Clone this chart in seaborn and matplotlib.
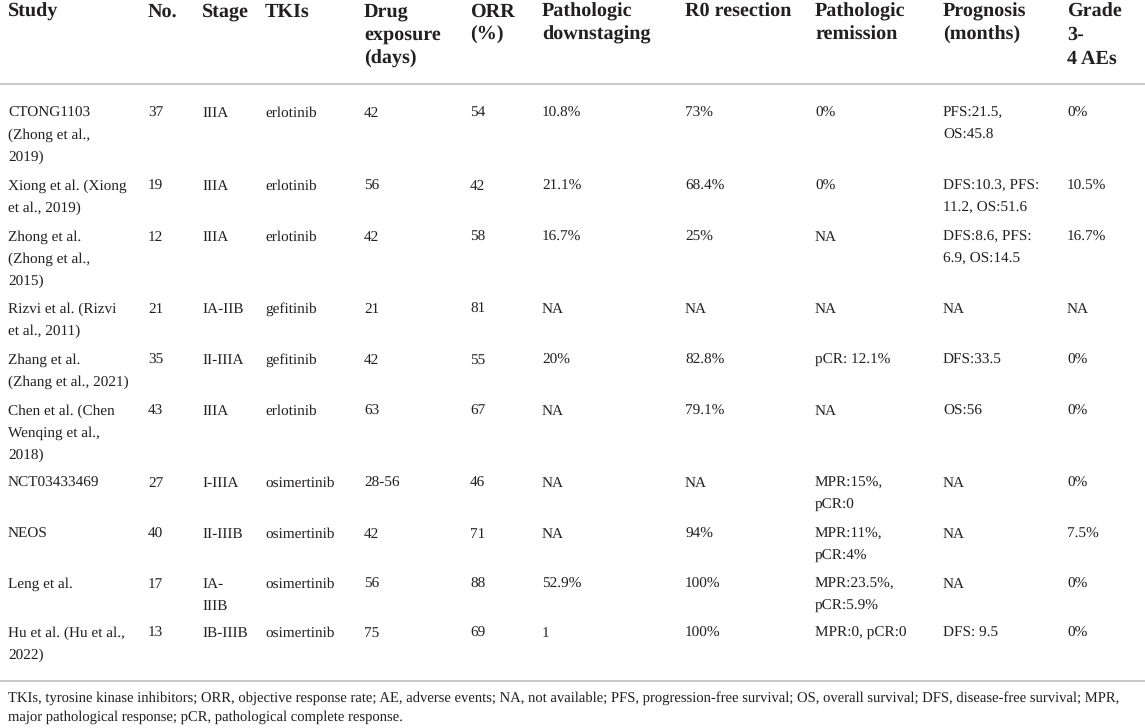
import matplotlib
matplotlib.use("Agg")
import matplotlib.pyplot as plt
import seaborn as sns

# ---------------- data ----------------
headers = ["Study", "No.", "Stage", "TKIs", "Drug\nexposure\n(days)", "ORR\n(%)",
           "Pathologic\ndownstaging", "R0 resection", "Pathologic\nremission",
           "Prognosis\n(months)", "Grade\n3-\n4 AEs"]

studies = ["CTONG1103\n(Zhong et al.,\n2019)", "Xiong et al. (Xiong\net al., 2019)",
           "Zhong et al.\n(Zhong et al.,\n2015)", "Rizvi et al. (Rizvi\net al., 2011)",
           "Zhang et al.\n(Zhang et al., 2021)", "Chen et al. (Chen\nWenqing et al.,\n2018)",
           "NCT03433469", "NEOS", "Leng et al.", "Hu et al. (Hu et al.,\n2022)"]
patients = ["37", "19", "12", "21", "35", "43", "27", "40", "17", "13"]
stages = ["IIIA", "IIIA", "IIIA", "IA-IIB", "II-IIIA", "IIIA", "I-IIIA", "II-IIIB", "IA-\nIIIB", "IB-IIIB"]
tkis = ["erlotinib", "erlotinib", "erlotinib", "gefitinib", "gefitinib", "erlotinib",
        "osimertinib", "osimertinib", "osimertinib", "osimertinib"]
exposure = ["42", "56", "42", "21", "42", "63", "28-56", "42", "56", "75"]
orr = ["54", "42", "58", "81", "55", "67", "46", "71", "88", "69"]
downstaging = ["10.8%", "21.1%", "16.7%", "NA", "20%", "NA", "NA", "NA", "52.9%", "1"]
r0 = ["73%", "68.4%", "25%", "NA", "82.8%", "79.1%", "NA", "94%", "100%", "100%"]
remission = ["0%", "0%", "NA", "NA", "pCR: 12.1%", "NA", "MPR:15%,\npCR:0",
             "MPR:11%,\npCR:4%", "MPR:23.5%,\npCR:5.9%", "MPR:0, pCR:0"]
prognosis = ["PFS:21.5,\nOS:45.8", "DFS:10.3, PFS:\n11.2, OS:51.6", "DFS:8.6, PFS:\n6.9, OS:14.5",
             "NA", "DFS:33.5", "OS:56", "NA", "NA", "NA", "DFS: 9.5"]
aes = ["0%", "10.5%", "16.7%", "NA", "0%", "0%", "0%", "7.5%", "0%", "0%"]

footnote = ("TKIs, tyrosine kinase inhibitors; ORR, objective response rate; AE, adverse events; NA, not available; "
            "PFS, progression-free survival; OS, overall survival; DFS, disease-free survival; MPR,\n"
            "major pathological response; pCR, pathological complete response.")

columns = [studies, patients, stages, tkis, exposure, orr, downstaging, r0, remission, prognosis, aes]

# ---------------- layout ----------------
sns.set_theme(style="white")
plt.rcParams["font.family"] = ["Liberation Serif", "DejaVu Serif"]
plt.rcParams["text.hinting"] = "no_hinting"

W, H = 1145, 728
fig = plt.figure(figsize=(W / 100, H / 100), dpi=100)
ax = fig.add_axes([0, 0, 1, 1])
ax.set_xlim(0, W)
ax.set_ylim(H, 0)
ax.axis("off")

col_x = [8, 148, 202, 265, 364, 470, 542, 685, 815, 943, 1067]
header_y = 10
header_dy = 23.5
row_y = [112, 185, 236, 308, 359, 410, 482, 533, 583, 632]
line_dy = 21.7
text_color = "#231f20"
rule_color = "#c4c4c4"

for x, h in zip(col_x, headers):
    for i, line in enumerate(h.split("\n")):
        ax.text(x, header_y + i * header_dy + 6.5, line, fontsize=14.5, fontweight="bold",
                color=text_color, va="baseline", ha="left")

for x, col in zip(col_x, columns):
    for y, cell in zip(row_y, col):
        for i, line in enumerate(cell.split("\n")):
            ax.text(x, y + i * line_dy + 5, line, fontsize=11, color=text_color,
                    va="baseline", ha="left")

ax.plot([0, W], [84, 84], color=rule_color, lw=1.3)
ax.plot([0, W], [681, 681], color=rule_color, lw=1.3)

for i, line in enumerate(footnote.split("\n")):
    ax.text(8, 697 + i * 19 + 4.8, line, fontsize=10.5, color=text_color,
            va="baseline", ha="left")

fig.savefig("out.png", dpi=100, facecolor="white")
